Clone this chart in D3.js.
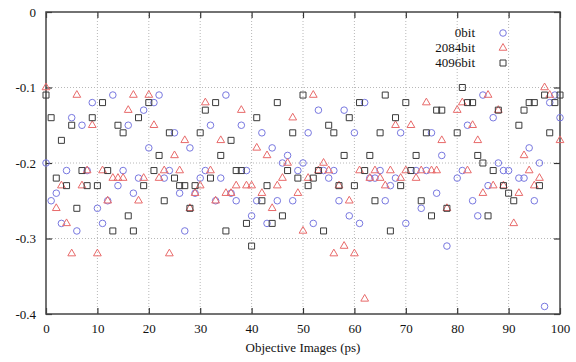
<!DOCTYPE html>
<html>
<head>
<meta charset="utf-8">
<script src="https://cdn.jsdelivr.net/npm/d3@7"></script>
<style>
  body { margin: 0; background: #fff; }
  svg { display: block; font-family: "Liberation Serif", "DejaVu Serif", serif; }
</style>
</head>
<body>
<svg width="576" height="362"></svg>
<script>
// values by x = 0..100 (null where unreadable)
const bits0 = [
  -0.20, -0.25, -0.24, -0.28, -0.21, -0.14, -0.29, -0.15, -0.21, -0.12,
  -0.26, -0.28, -0.25, -0.11, -0.23, -0.21, -0.15, -0.24, -0.22, -0.13,
  -0.18, -0.12, -0.11, -0.22, -0.21, -0.16, -0.24, -0.29, -0.18, -0.24,
  -0.22, -0.21, -0.15, -0.25, -0.22, -0.11, -0.24, -0.25, -0.15, -0.21,
  -0.27, -0.25, -0.16, -0.28, -0.18, -0.25, -0.20, -0.19, -0.25, -0.21,
  -0.20, -0.16, -0.28, -0.13, -0.21, -0.22, -0.21, -0.25, -0.13, -0.27,
  -0.16, -0.28, -0.12, -0.22, -0.22, -0.21, -0.25, -0.23, -0.22, -0.16,
  -0.28, null, -0.21, -0.26, -0.21, -0.16, -0.24, -0.19, -0.31, null,
  -0.22, -0.21, -0.15, -0.25, -0.27, -0.11, -0.23, -0.14, -0.20, -0.21,
  -0.21, null, -0.22, -0.22, -0.18, -0.25, -0.20, -0.39, -0.12, -0.11,
  -0.14
];
const bits2084 = [
  -0.10, null, -0.26, -0.23, -0.28, -0.32, -0.11, -0.23, -0.21, -0.15,
  -0.32, -0.21, -0.25, -0.22, -0.22, -0.22, -0.13, -0.11, -0.25, -0.22,
  -0.11, -0.15, -0.22, -0.21, -0.32, -0.19, -0.21, -0.17, -0.26, -0.24,
  -0.23, -0.12, -0.21, -0.25, -0.17, -0.24, -0.24, -0.23, -0.13, -0.23,
  -0.23, -0.18, -0.24, -0.19, -0.26, -0.23, -0.22, -0.20, -0.14, -0.24,
  -0.29, -0.22, -0.11, -0.21, -0.20, -0.21, -0.32, -0.23, -0.31, -0.25,
  -0.32, -0.21, -0.38, -0.22, -0.21, -0.22, -0.23, -0.21, -0.15, -0.22,
  -0.21, -0.15, -0.22, -0.21, -0.12, -0.21, -0.21, -0.17, -0.26, null,
  -0.13, -0.12, -0.21, -0.15, -0.17, -0.24, -0.11, -0.23, -0.13, -0.23,
  null, -0.28, -0.24, -0.19, -0.21, -0.23, -0.22, -0.10, -0.11, null,
  -0.17
];
const bits4096 = [
  -0.11, -0.14, -0.22, -0.17, -0.23, -0.15, -0.26, -0.21, -0.23, -0.14,
  -0.23, -0.12, -0.21, -0.29, -0.15, -0.16, -0.27, -0.29, -0.14, -0.23,
  -0.12, -0.21, -0.19, -0.25, -0.16, -0.22, -0.23, -0.23, -0.26, -0.23,
  -0.16, -0.13, -0.22, -0.12, -0.19, -0.29, -0.17, -0.21, -0.21, -0.28,
  -0.31, -0.14, -0.25, -0.23, -0.28, -0.12, -0.27, -0.21, -0.16, -0.22,
  -0.11, -0.23, -0.22, -0.21, -0.29, -0.15, -0.16, -0.23, -0.19, -0.14,
  -0.23, -0.12, -0.21, -0.19, -0.25, -0.16, -0.11, -0.29, -0.14, -0.23,
  -0.12, -0.21, -0.19, -0.25, -0.16, -0.27, -0.13, -0.13, -0.26, null,
  -0.16, -0.10, -0.12, -0.12, -0.19, -0.20, -0.27, -0.21, -0.13, -0.23,
  -0.24, -0.25, -0.15, -0.13, -0.12, -0.12, -0.23, -0.11, -0.16, -0.12,
  -0.11
];
const seriesNames = ["0bit", "2084bit", "4096bit"];
const xTicks = [0, 10, 20, 30, 40, 50, 60, 70, 80, 90, 100];
const yTicks = [0, -0.1, -0.2, -0.3, -0.4];

const margin = { left: 46, top: 12, right: 16, bottom: 48 };
const width = 576;
const height = 362;

const svg = d3.select("svg");

const x = d3.scaleLinear().domain([0, 100]).range([margin.left, width - margin.right]);
const y = d3.scaleLinear().domain([-0.4, 0]).range([height - margin.bottom, margin.top]);

// grid
svg.append("g")
  .selectAll("line")
  .data(xTicks.slice(1, -1))
  .join("line")
  .attr("x1", (d) => x(d)).attr("x2", (d) => x(d))
  .attr("y1", y(0)).attr("y2", y(-0.4))
  .attr("stroke", "#b8b8b8").attr("stroke-dasharray", "1,2");
svg.append("g")
  .selectAll("line")
  .data(yTicks.slice(1, -1))
  .join("line")
  .attr("x1", x(0)).attr("x2", x(100))
  .attr("y1", (d) => y(d)).attr("y2", (d) => y(d))
  .attr("stroke", "#b8b8b8").attr("stroke-dasharray", "1,2");

// axes (gnuplot style: inward ticks, mirrored)
const fmtY = (d) => (d === 0 ? "0" : d3.format(".1f")(d).replace("−", "-"));
svg.append("g")
  .attr("transform", `translate(0,${y(-0.4)})`)
  .call(d3.axisBottom(x).tickValues(xTicks).tickSize(-6).tickPadding(10))
  .call((g) => g.select(".domain").remove());
svg.append("g")
  .attr("transform", `translate(0,${y(0)})`)
  .call(d3.axisTop(x).tickValues(xTicks).tickSize(-6).tickFormat(""))
  .call((g) => g.select(".domain").remove());
svg.append("g")
  .attr("transform", `translate(${x(0)},0)`)
  .call(d3.axisLeft(y).tickValues(yTicks).tickSize(-6).tickPadding(10).tickFormat(fmtY))
  .call((g) => g.select(".domain").remove());
svg.append("g")
  .attr("transform", `translate(${x(100)},0)`)
  .call(d3.axisRight(y).tickValues(yTicks).tickSize(-6).tickFormat(""))
  .call((g) => g.select(".domain").remove());

svg.selectAll(".tick line").attr("stroke", "#333").attr("stroke-width", 1.2);
svg.selectAll(".tick text").attr("fill", "#111").style("font-size", "13px")
  .style("font-family", '"Liberation Serif", serif');

svg.append("rect")
  .attr("x", x(0)).attr("y", y(0))
  .attr("width", x(100) - x(0)).attr("height", y(-0.4) - y(0))
  .attr("fill", "none").attr("stroke", "#444").attr("stroke-width", 1.5);

// markers
const colors = ["#7878e0", "#e86a6a", "#3a3a3a"];
const shapes = [d3.symbolCircle, d3.symbolTriangle, d3.symbolSquare];
const sizes = [34, 26, 36];
const allSeries = [bits0, bits2084, bits4096];

allSeries.forEach((vals, i) => {
  const pts = vals.map((v, k) => ({ k, v })).filter((d) => d.v !== null);
  svg.append("g")
    .selectAll("path")
    .data(pts)
    .join("path")
    .attr("d", d3.symbol().type(shapes[i]).size(sizes[i]))
    .attr("transform", (d) => `translate(${x(d.k)},${y(d.v)})`)
    .attr("fill", "none")
    .attr("stroke", colors[i])
    .attr("stroke-width", 1);
});

// legend
const legend = svg.append("g").attr("transform", "translate(0,33)");
seriesNames.forEach((name, i) => {
  legend.append("text")
    .attr("x", 475).attr("y", i * 15 + 4)
    .attr("text-anchor", "end")
    .style("font-size", "13px")
    .attr("fill", "#111")
    .text(name);
  legend.append("path")
    .attr("d", d3.symbol().type(shapes[i]).size(sizes[i]))
    .attr("transform", `translate(503,${i * 15})`)
    .attr("fill", "none").attr("stroke", colors[i]);
});

svg.append("text")
  .attr("x", (x(0) + x(100)) / 2).attr("y", 352)
  .attr("text-anchor", "middle")
  .style("font-size", "13px")
  .attr("fill", "#111")
  .text("Objective Images (ps)");
</script>
</body>
</html>
